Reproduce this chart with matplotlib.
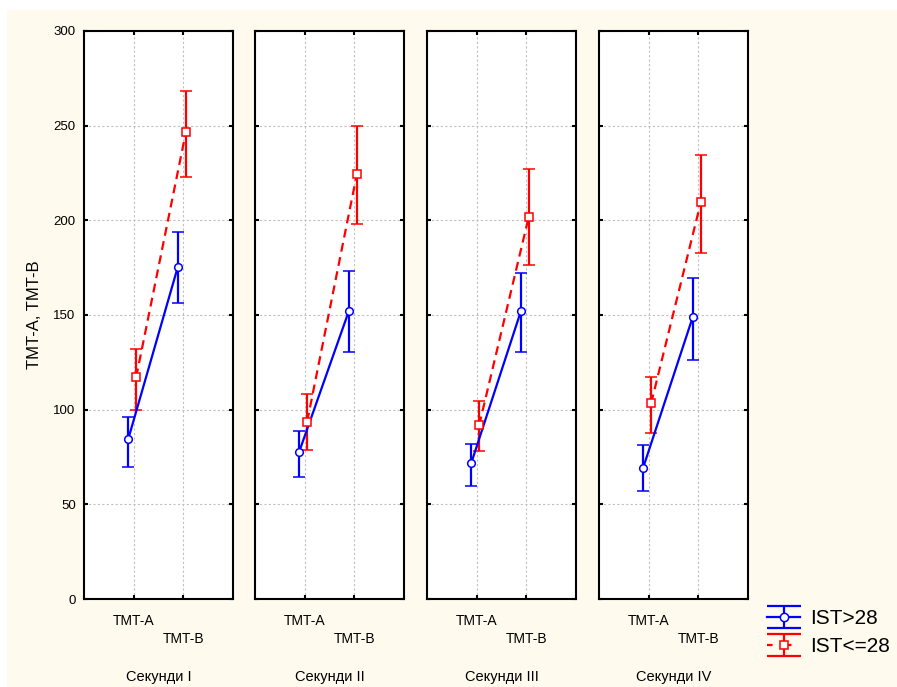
import numpy as np
import matplotlib
matplotlib.use("Agg")
import matplotlib.pyplot as plt
from matplotlib.path import Path
from matplotlib.lines import Line2D
from matplotlib.legend_handler import HandlerTuple
from matplotlib.patches import Rectangle

plt.rcParams['font.family'] = ['Liberation Sans', 'DejaVu Sans']

# ---- data ----
categories = ["TMT-A", "TMT-B"]
panels = ["Секунди I", "Секунди II", "Секунди III", "Секунди IV"]
series_names = ["IST>28", "IST<=28"]

high_mean = [[84.4, 175.5], [77.8, 152.1], [71.7, 152.0], [69.4, 149.1]]
high_lo = [[69.9, 156.2], [64.6, 130.6], [59.7, 130.3], [57.0, 126.4]]
high_hi = [[96.3, 194.0], [88.9, 173.3], [81.7, 172.0], [81.4, 169.7]]

low_mean = [[117.1, 246.5], [93.7, 224.3], [91.8, 202.0], [103.4, 209.6]]
low_lo = [[99.8, 222.8], [78.7, 198.1], [78.0, 176.4], [87.9, 182.6]]
low_hi = [[131.9, 268.5], [108.3, 250.0], [104.8, 227.2], [117.4, 234.7]]

yticks = [0, 50, 100, 150, 200, 250, 300]

# ---- figure ----
W, H = 897, 687
fig = plt.figure(figsize=(W / 100, H / 100), dpi=100, facecolor="white")
cream = "#FFFAEE"
fig.patches.append(Rectangle((7 / W, 0), 1 - 7 / W, 1 - 10 / H, transform=fig.transFigure,
                             facecolor=cream, edgecolor="none", zorder=-10))

lefts = [84, 255, 427, 599]
top_px, bot_px, w_px = 31, 599, 149
x = np.arange(1, len(categories) + 1)
off_high, off_low = -0.11, 0.05

blue = "#0000FF"
red = "#FF0000"

for i, left in enumerate(lefts):
    ax = fig.add_axes([left / W, 1 - bot_px / H, w_px / W, (bot_px - top_px) / H])
    ax.set_facecolor("white")
    hm = np.array(high_mean[i]); hl = np.array(high_lo[i]); hh = np.array(high_hi[i])
    lm = np.array(low_mean[i]); ll = np.array(low_lo[i]); lh = np.array(low_hi[i])

    ax.errorbar(x + off_high, hm, yerr=[hm - hl, hh - hm], color=blue, lw=1.6,
                elinewidth=1.6, capsize=4, capthick=1.6, marker="o", ms=5.5,
                mfc="white", mec=blue, mew=1.1, zorder=3)
    ax.errorbar(x + off_low, lm, yerr=[lm - ll, lh - lm], color=red, lw=1.6,
                ls=(0, (4, 2.5)), elinewidth=1.6, capsize=4, capthick=1.6,
                marker="s", ms=5.5, mfc="white", mec=red, mew=1.1, zorder=3)

    ax.set_xlim(0, 3)
    ax.set_ylim(0, 300)
    ax.set_yticks(yticks)
    ax.set_xticks(x)
    ax.grid(True, color="#C0C0C0", ls=(0, (2, 2)), lw=0.8)
    ax.set_axisbelow(True)
    for s in ax.spines.values():
        s.set_linewidth(1.5)
        s.set_color("black")
    ax.tick_params(direction="in", length=3, width=1.5, top=True, right=True)
    ax.tick_params(axis="y", labelsize=9.5, pad=6)
    ax.tick_params(axis="x", pad=10.5)
    ax.set_xticklabels([categories[0], "\n" + categories[1]], fontsize=10, linespacing=1.4)
    if i == 0:
        ax.set_ylabel("TMT-A, TMT-B", fontsize=12, labelpad=8)
    else:
        ax.set_yticklabels([])
    ax.set_xlabel(panels[i], fontsize=10.5, labelpad=17)

# ---- legend ----
verts = [(-1, 0.62), (1, 0.62), (0, 0.62), (0, -0.62), (-1, -0.62), (1, -0.62)]
codes = [Path.MOVETO, Path.LINETO, Path.MOVETO, Path.LINETO, Path.MOVETO, Path.LINETO]
ibar = Path(verts, codes)

h1 = (Line2D([], [], ls="none", marker=ibar, ms=24.5, mec=blue, mew=1.6),
      Line2D([], [], color=blue, lw=1.6, marker="o", ms=6, mfc="white", mec=blue, mew=1.1))
h2 = (Line2D([], [], ls="none", marker=ibar, ms=24.5, mec=red, mew=1.6),
      Line2D([], [], color=red, lw=1.6, ls=(0, (2.5, 6)), marker="s", ms=6, mfc="white",
             mec=red, mew=1.1))
fig.legend([h1, h2], series_names, handler_map={tuple: HandlerTuple(ndivide=1, pad=0)},
           loc="upper left", bbox_to_anchor=(767 / W, 1 - 609 / H), frameon=False,
           fontsize=15, borderpad=0, borderaxespad=0, handlelength=1.6,
           handletextpad=0.45, labelspacing=0.45, numpoints=1)

fig.savefig("out.png", dpi=100, facecolor=fig.get_facecolor())
